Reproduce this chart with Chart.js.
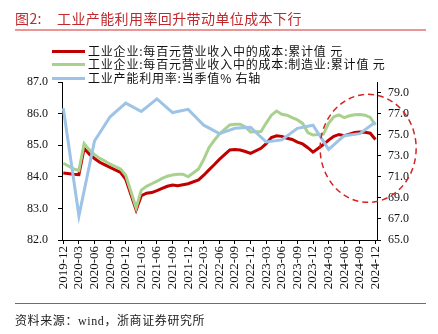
<!DOCTYPE html>
<html>
<head>
<meta charset="utf-8">
<script src="https://cdn.jsdelivr.net/npm/chart.js@4.4.1/dist/chart.umd.min.js"></script>
<style>
  body { margin: 0; width: 438px; height: 334px; background: #fff; position: relative; overflow: hidden; }
  #box { position: absolute; left: 0; top: 0; width: 438px; height: 334px; }
  .txt { position: absolute; font-family: "Liberation Serif", "Noto Sans CJK SC", serif; white-space: nowrap; }
  .title { top: 8px; font-size: 14px; color: #c0282d; letter-spacing: 0.4px; font-family: "Noto Sans CJK SC", sans-serif; }
  .rule { position: absolute; left: 15px; width: 411px; }
  .lg { position: absolute; left: 88px; font-size: 12px; line-height: 14px; color: #111; letter-spacing: 0.8px; font-family: "Noto Sans CJK SC", sans-serif; white-space: nowrap; }
  .sw { position: absolute; left: 52px; width: 33px; height: 3px; }
  .src { left: 15px; top: 311px; font-size: 12px; color: #222; letter-spacing: 0.6px; }
</style>
</head>
<body>
<div id="box"><canvas id="myChart"></canvas></div>
<div class="txt title" style="left:15px">图2:</div>
<div class="txt title" style="left:57px">工业产能利用率回升带动单位成本下行</div>
<div class="rule" style="top:29px;height:2px;background:#e99696"></div>
<div id="legend"></div>
<div class="rule" style="top:303px;height:1px;background:#e23b3b"></div>
<div class="txt src">资料来源：wind，浙商证券研究所</div>

<script>
// quarter ticks on the x axis (month index 0 = 2019-12)
var quarterLabels = ['2019-12','2020-03','2020-06','2020-09','2020-12','2021-03','2021-06','2021-09','2021-12',
  '2022-03','2022-06','2022-09','2022-12','2023-03','2023-06','2023-09','2023-12','2024-03','2024-06','2024-09','2024-12'];
var leftTicks = [82.0, 82.5, 83.0, 83.5, 84.0, 84.5, 85.0, 85.5, 86.0, 86.5, 87.0];
var rightTicks = [65, 67, 69, 71, 73, 75, 77, 79];

var seriesNames = ['工业企业:每百元营业收入中的成本:累计值 元',
  '工业企业:每百元营业收入中的成本:制造业:累计值 元',
  '工业产能利用率:当季值% 右轴'];

// monthly cumulative cost per 100 yuan revenue, January not published (null)
var costAll = [84.12, null, 84.08, 84.07, 84.90, 84.72, 84.58, 84.46, 84.38, 84.30, 84.22, 84.14,
  83.92, null, 82.95, 83.40, 83.48, 83.50, 83.56, 83.63, 83.70, 83.74, 83.72, 83.75,
  83.78, null, 83.90, 84.05, 84.22, 84.38, 84.55, 84.70, 84.85, 84.86, 84.85, 84.80,
  84.74, null, 84.90, 85.05, 85.24, 85.30, 85.28, 85.22, 85.18, 85.10, 85.04, 84.92,
  84.78, null, 85.02, 85.16, 85.28, 85.34, 85.30, 85.35, 85.40, 85.42, 85.41, 85.38,
  85.18];
var costMfg = [84.43, null, 84.25, 84.20, 85.05, 84.85, 84.70, 84.58, 84.50, 84.40, 84.32, 84.25,
  84.05, null, 83.02, 83.58, 83.70, 83.78, 83.86, 83.95, 84.02, 84.06, 84.08, 84.08,
  84.00, null, 84.25, 84.55, 84.92, 85.15, 85.35, 85.50, 85.64, 85.66, 85.66, 85.58,
  85.42, null, 85.43, 85.70, 85.95, 86.08, 85.98, 85.95, 85.87, 85.80, 85.69, 85.40,
  85.32, null, 85.35, 85.69, 85.90, 85.96, 85.87, 85.93, 85.96, 85.97, 85.95, 85.88,
  85.64];
// quarterly capacity utilisation, %
var utilRate = [77.5, 67.3, 74.4, 76.7, 78.0, 77.2, 78.4, 77.1, 77.4, 75.9, 75.1, 75.6, 75.7,
  74.3, 74.5, 75.6, 75.9, 73.6, 74.9, 75.1, 76.2];

var colors = ['#c00000', '#a9d18e', '#9dc3e6'];

// dashed highlight round the latest year: centre (month index, right-axis value)
var circleAt = [58.6, 73.7];

var legendBox = document.getElementById('legend');
var legendTops = [44, 57, 71];
seriesNames.forEach(function (name, i) {
  legendBox.innerHTML += '<div class="sw" style="top:' + (legendTops[i] + 6) + 'px;background:' + colors[i] + '"></div>' +
    '<div class="lg" style="top:' + legendTops[i] + 'px">' + name + '</div>';
});

var highlight = {
  id: 'highlight',
  afterDraw: function (chart) {
    var ctx = chart.ctx;
    var cx = chart.scales.x.getPixelForValue(circleAt[0]);
    var cy = chart.scales.y1.getPixelForValue(circleAt[1]);
    ctx.save();
    ctx.strokeStyle = '#d42424';
    ctx.lineWidth = 1.5;
    ctx.setLineDash([6, 4]);
    ctx.beginPath();
    ctx.ellipse(cx, cy, 48, 54, 0, 0, Math.PI * 2);
    ctx.stroke();
    ctx.restore();
  }
};

Chart.defaults.font.family = '"Liberation Serif", serif';
Chart.defaults.color = '#111';

var tickFont = { size: 12 };
var ctx = document.getElementById('myChart').getContext('2d');

var chart = new Chart(ctx, {
  type: 'line',
  data: {
    datasets: [{
      label: seriesNames[0],
      data: costAll.map(function (v, i) { return { x: i, y: v }; }),
      borderColor: colors[0],
      borderWidth: 3,
      yAxisID: 'y',
      order: 2
    }, {
      label: seriesNames[1],
      data: costMfg.map(function (v, i) { return { x: i, y: v }; }),
      borderColor: colors[1],
      borderWidth: 3,
      yAxisID: 'y',
      order: 1
    }, {
      label: seriesNames[2],
      data: utilRate.map(function (v, i) { return { x: i * 3, y: v }; }),
      borderColor: colors[2],
      borderWidth: 3,
      yAxisID: 'y1',
      order: 0
    }]
  },
  options: {
    responsive: true,
    maintainAspectRatio: false,
    animation: false,
    spanGaps: true,
    elements: { point: { radius: 0 }, line: { tension: 0 } },
    layout: { padding: { left: 17, right: 16, top: 82, bottom: 34 } },
    plugins: { legend: { display: false }, tooltip: { enabled: false } },
    scales: {
      x: {
        type: 'linear',
        min: -0.25,
        max: 60.3,
        afterBuildTicks: function (scale) {
          scale.ticks = quarterLabels.map(function (l, i) { return { value: i * 3 }; });
        },
        afterFit: function (scale) { scale.height = 60; },
        grid: { drawOnChartArea: false, drawTicks: true, tickLength: 4, color: '#000' },
        border: { color: '#000', width: 1 },
        ticks: {
          autoSkip: false, minRotation: 90, maxRotation: 90, padding: 2,
          font: { size: 13 }, color: '#111',
          callback: function (v, i) { return quarterLabels[i]; }
        }
      },
      y: {
        position: 'left',
        min: 82,
        max: 87,
        afterBuildTicks: function (scale) {
          scale.ticks = leftTicks.map(function (v) { return { value: v }; });
        },
        afterFit: function (scale) { scale.width = 45; },
        grid: { drawOnChartArea: false, drawTicks: true, tickLength: 4, color: '#000' },
        border: { color: '#000', width: 1 },
        ticks: { padding: 10, font: tickFont, color: '#111', callback: function (v) { return v.toFixed(1); } }
      },
      y1: {
        position: 'right',
        min: 65,
        max: 80,
        afterBuildTicks: function (scale) {
          scale.ticks = rightTicks.map(function (v) { return { value: v }; });
        },
        afterFit: function (scale) { scale.width = 45; },
        grid: { drawOnChartArea: false, drawTicks: true, tickLength: 4, color: '#000' },
        border: { color: '#000', width: 1 },
        ticks: { padding: 7, font: tickFont, color: '#111', callback: function (v) { return v.toFixed(1); } }
      }
    }
  },
  plugins: [highlight]
});
</script>
</body>
</html>
